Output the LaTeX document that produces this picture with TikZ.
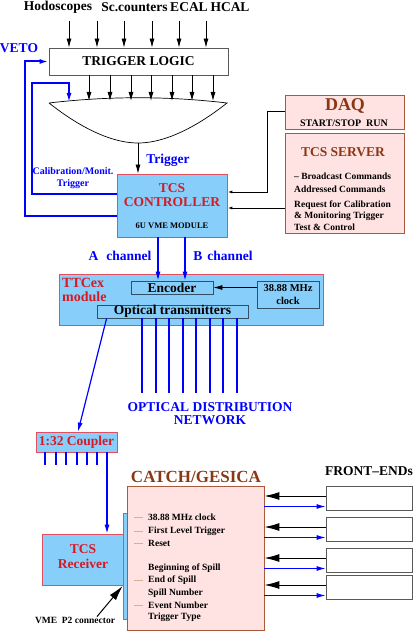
\documentclass[tikz,border=0pt]{standalone}
\usepackage{fontspec}
\setmainfont{Liberation Serif}
\usepackage{xcolor}
\usetikzlibrary{positioning}
\usetikzlibrary{arrows.meta}
\definecolor{skyfill}{RGB}{135,206,250}
\definecolor{redline}{RGB}{225,80,95}
\definecolor{redtext}{RGB}{215,25,35}
\definecolor{pinkfill}{RGB}{255,226,226}
\definecolor{brownline}{RGB}{170,90,60}
\definecolor{browntext}{RGB}{140,55,20}
\definecolor{tanline}{RGB}{215,175,150}
\definecolor{slateline}{RGB}{50,80,100}
\newcommand\bsz[2]{\fontsize{#1}{#2}\selectfont\bfseries}
\tikzset{%
  lbl/.style={inner sep=0pt,font=\bsz{13.5}{14}},
  bluelbl/.style={lbl,text=blue},
  redlbl/.style={lbl,text=redtext},
  brownlbl/.style={lbl,text=browntext},
  itemlbl/.style={inner sep=0pt,font=\bsz{9.5}{10}}
}
\tikzset{%
  skybox/.style={rectangle,fill=skyfill,draw=redline,thick,inner sep=0pt},
  pinkbox/.style={rectangle,fill=pinkfill,draw=brownline,thick,inner sep=0pt},
  encbox/.style={rectangle,fill=skyfill,draw=slateline,thick,inner sep=0pt,font=\bsz{13.5}{14}},
  logicbox/.style={rectangle,draw=gray!70!black,thick,inner sep=0pt,font=\bsz{13.5}{14}},
  febox/.style={rectangle,draw=gray!70!black,thick,inner sep=0pt}
}
\tikzset{%
  blkarr/.style={-{Latex[length=9pt,width=5pt]},line width=0.8pt},
  smallarr/.style={-{Latex[length=5pt,width=3pt]},line width=1pt},
  bigarr/.style={-{Latex[length=15pt,width=8pt]},line width=1pt},
  bluearr/.style={-{Latex[length=9pt,width=5pt]},blue,line width=1.2pt},
  fiber/.style={blue,line width=1.3pt}
}
\begin{document}
\begin{tikzpicture}[x=1pt,y=-1pt]
  \useasboundingbox (0,0) rectangle (415,631);

  \node[lbl] (hodo) at (58,7) {Hodoscopes};
  \node[lbl] (scnt) at (134.5,7) {Sc.counters};
  \node[lbl] (ecal) at (189,7) {ECAL};
  \node[lbl] (hcal) at (230,7) {HCAL};
  \node[logicbox,minimum width=179pt,minimum height=27pt] (logic) at (138.5,61.5) {TRIGGER LOGIC};
  \foreach \x [count=\i] in {69,97,124,152,179,206}
    \draw[blkarr] (\x,21) coordinate (in\i) -- (in\i |- logic.north);
  \foreach \x [count=\i] in {89,110,131,151,172,192,213}
    \draw[blkarr] (logic.south -| \x,0) -- (\x,101) coordinate (or\i);

  \draw[line width=0.7pt] (49,103) coordinate (orl) .. controls (108,96) and (168,96) .. (227,103) coordinate (orr)
    .. controls (208,118) and (172,143) .. (138,143) coordinate (orout)
    .. controls (104,143) and (68,118) .. (orl);

  \node[skybox,minimum width=110pt,minimum height=63pt] (ctrl) at (172,205.5) {};
  \node[redlbl,align=center] (ctrlname) at (172,195) {TCS\\CONTROLLER};
  \node[lbl,font=\bsz{8.5}{9}] (ctrlsub) at (172,226) {6U VME MODULE};
  \draw[blkarr] (orout) -- (orout |- ctrl.north);
  \node[bluelbl] (trg) at (168,160) {Trigger};

  \node[bluelbl] (veto) at (19,48) {VETO};
  \node[bluelbl,align=center,font=\bsz{10}{12.5}] (calib) at (73,178) {Calibration/Monit.\\Trigger};
  \draw[bluearr,line width=2pt] (ctrl.west |- 0,216) -| (25,61.5) -- (logic.west);
  \draw[bluearr,line width=1.5pt] (ctrl.west |- 0,194) -| (32,83) -| (69,102) coordinate (calin);

  \node[pinkbox,minimum width=119pt,minimum height=34pt] (daq) at (344.5,112) {};
  \node[brownlbl,font=\bsz{18}{18}] (daqname) at (345,106) {DAQ};
  \node[lbl,font=\bsz{10}{10}] (daqrun) at (344,123) {START/STOP\ \ RUN};
  \node[pinkbox,minimum width=119pt,minimum height=100pt] (server) at (344.5,183) {};
  \node[brownlbl] (servname) at (343,152) {TCS SERVER};
  \node[itemlbl,anchor=west] (srv1) at (294,176) {-- Broadcast Commands};
  \node[itemlbl,anchor=west] (srv2) at (294,189) {Addressed Commands};
  \node[itemlbl,anchor=west] (srv3) at (294,205) {Request for Calibration};
  \node[itemlbl,anchor=west] (srv4) at (294,216) {\& Monitoring Trigger};
  \node[itemlbl,anchor=west] (srv5) at (294,227) {Test \& Control};
  \draw[smallarr] (daq.west) -| (267,192) -- (ctrl.east |- 0,192);
  \draw[smallarr] (server.west |- 0,208) -- (ctrl.east |- 0,208);

  \node[skybox,minimum width=264pt,minimum height=51pt] (ttc) at (191,299.5) {};
  \node[redlbl,align=left,anchor=west,font=\bsz{14}{13.5}] (ttcname) at (62,290) {TTCex\\module};
  \node[encbox,minimum width=82pt,minimum height=13pt] (enc) at (172,287.5) {Encoder};
  \node[encbox,minimum width=62pt,minimum height=27pt,align=center,font=\bsz{10.5}{13.5}] (clk) at (288,294.5) {38.88 MHz\\clock};
  \node[encbox,minimum width=151pt,minimum height=13pt] (opt) at (172.5,311.5) {Optical transmitters};
  \node[bluelbl] (chA) at (120,256) {A\hspace{8pt}channel};
  \node[bluelbl] (chB) at (223,256) {B\hspace{5pt}channel};
  \draw[bluearr] (ctrl.south -| 158,0) -- (enc.north -| 158,0);
  \draw[bluearr] (ctrl.south -| 185,0) -- (enc.north -| 185,0);
  \draw[blkarr] (clk.west |- enc.east) -- (enc.east);

  \foreach \x [count=\i] in {142,156,169,183,196,210,223,237}
    \draw[fiber] (opt.south -| \x,0) -- (\x,393) coordinate (f\i);
  \node[bluelbl,align=center,font=\bsz{13.5}{13}] (odn) at (210,413.5) {OPTICAL DISTRIBUTION\\NETWORK};

  \node[skybox,minimum width=81pt,minimum height=20pt,text=redtext,font=\bsz{13.5}{14}] (coupler) at (76.5,442) {1:32 Coupler};
  \draw[bluearr] ([xshift=10pt]opt.south west) -- ([xshift=1.5pt]coupler.north);
  \foreach \x in {45,56,66,77,87,97}
    \draw[fiber] (coupler.south -| \x,0) -- (\x,465);

  \node[skybox,minimum width=82pt,minimum height=51pt] (rcv) at (83,559.5) {};
  \node[redlbl,align=center,font=\bsz{13.5}{15}] (rcvname) at (83,556.5) {TCS\\Receiver};
  \draw[bluearr] (coupler.south -| 107,0) -- (rcv.north -| 107,0);

  \node[skybox,minimum width=6pt,minimum height=106pt] (p2) at (126,566) {};
  \node[pinkbox,minimum width=137pt,minimum height=144pt] (catch) at (195.5,558) {};
  \node[brownlbl,font=\bsz{17}{17}] (catchname) at (196,477) {CATCH/GESICA};
  \foreach \t/\y/\d in {38.88 MHz clock/517/1,First Level Trigger/531/1,Reset/543/1,Beginning of Spill/568/0,
      End of Spill/580/1,Spill Number/593/0,Event Number/605/1,Trigger Type/617/0}{
    \node[itemlbl,anchor=west] (ci\y) at (148,\y) {\t};
    \ifnum\d=1 \draw[tanline,line width=1pt] ([xshift=-5pt]ci\y.west) -- ([xshift=-14pt]ci\y.west); \fi
  }

  \node[itemlbl] (p2lab) at (75,620) {VME\ \ P2 connector};
  \draw[bigarr] ([xshift=22pt]p2lab.north) -- (p2.west |- 0,586);

  \node[lbl] (fename) at (369,471) {FRONT--ENDs};
  \foreach \y [count=\i] in {498,529,560,587}{
    \node[febox,minimum width=86pt,minimum height=24pt] (fe\i) at (369,\y) {};
    \draw[bigarr] ([yshift=2pt]fe\i.west) -- ([yshift=2pt]fe\i.west -| catch.east);
    \draw[bluearr,line width=1pt] ([yshift=-8.5pt]fe\i.west -| catch.east) -- ([yshift=-8.5pt]fe\i.west);
  }
\end{tikzpicture}
\end{document}
